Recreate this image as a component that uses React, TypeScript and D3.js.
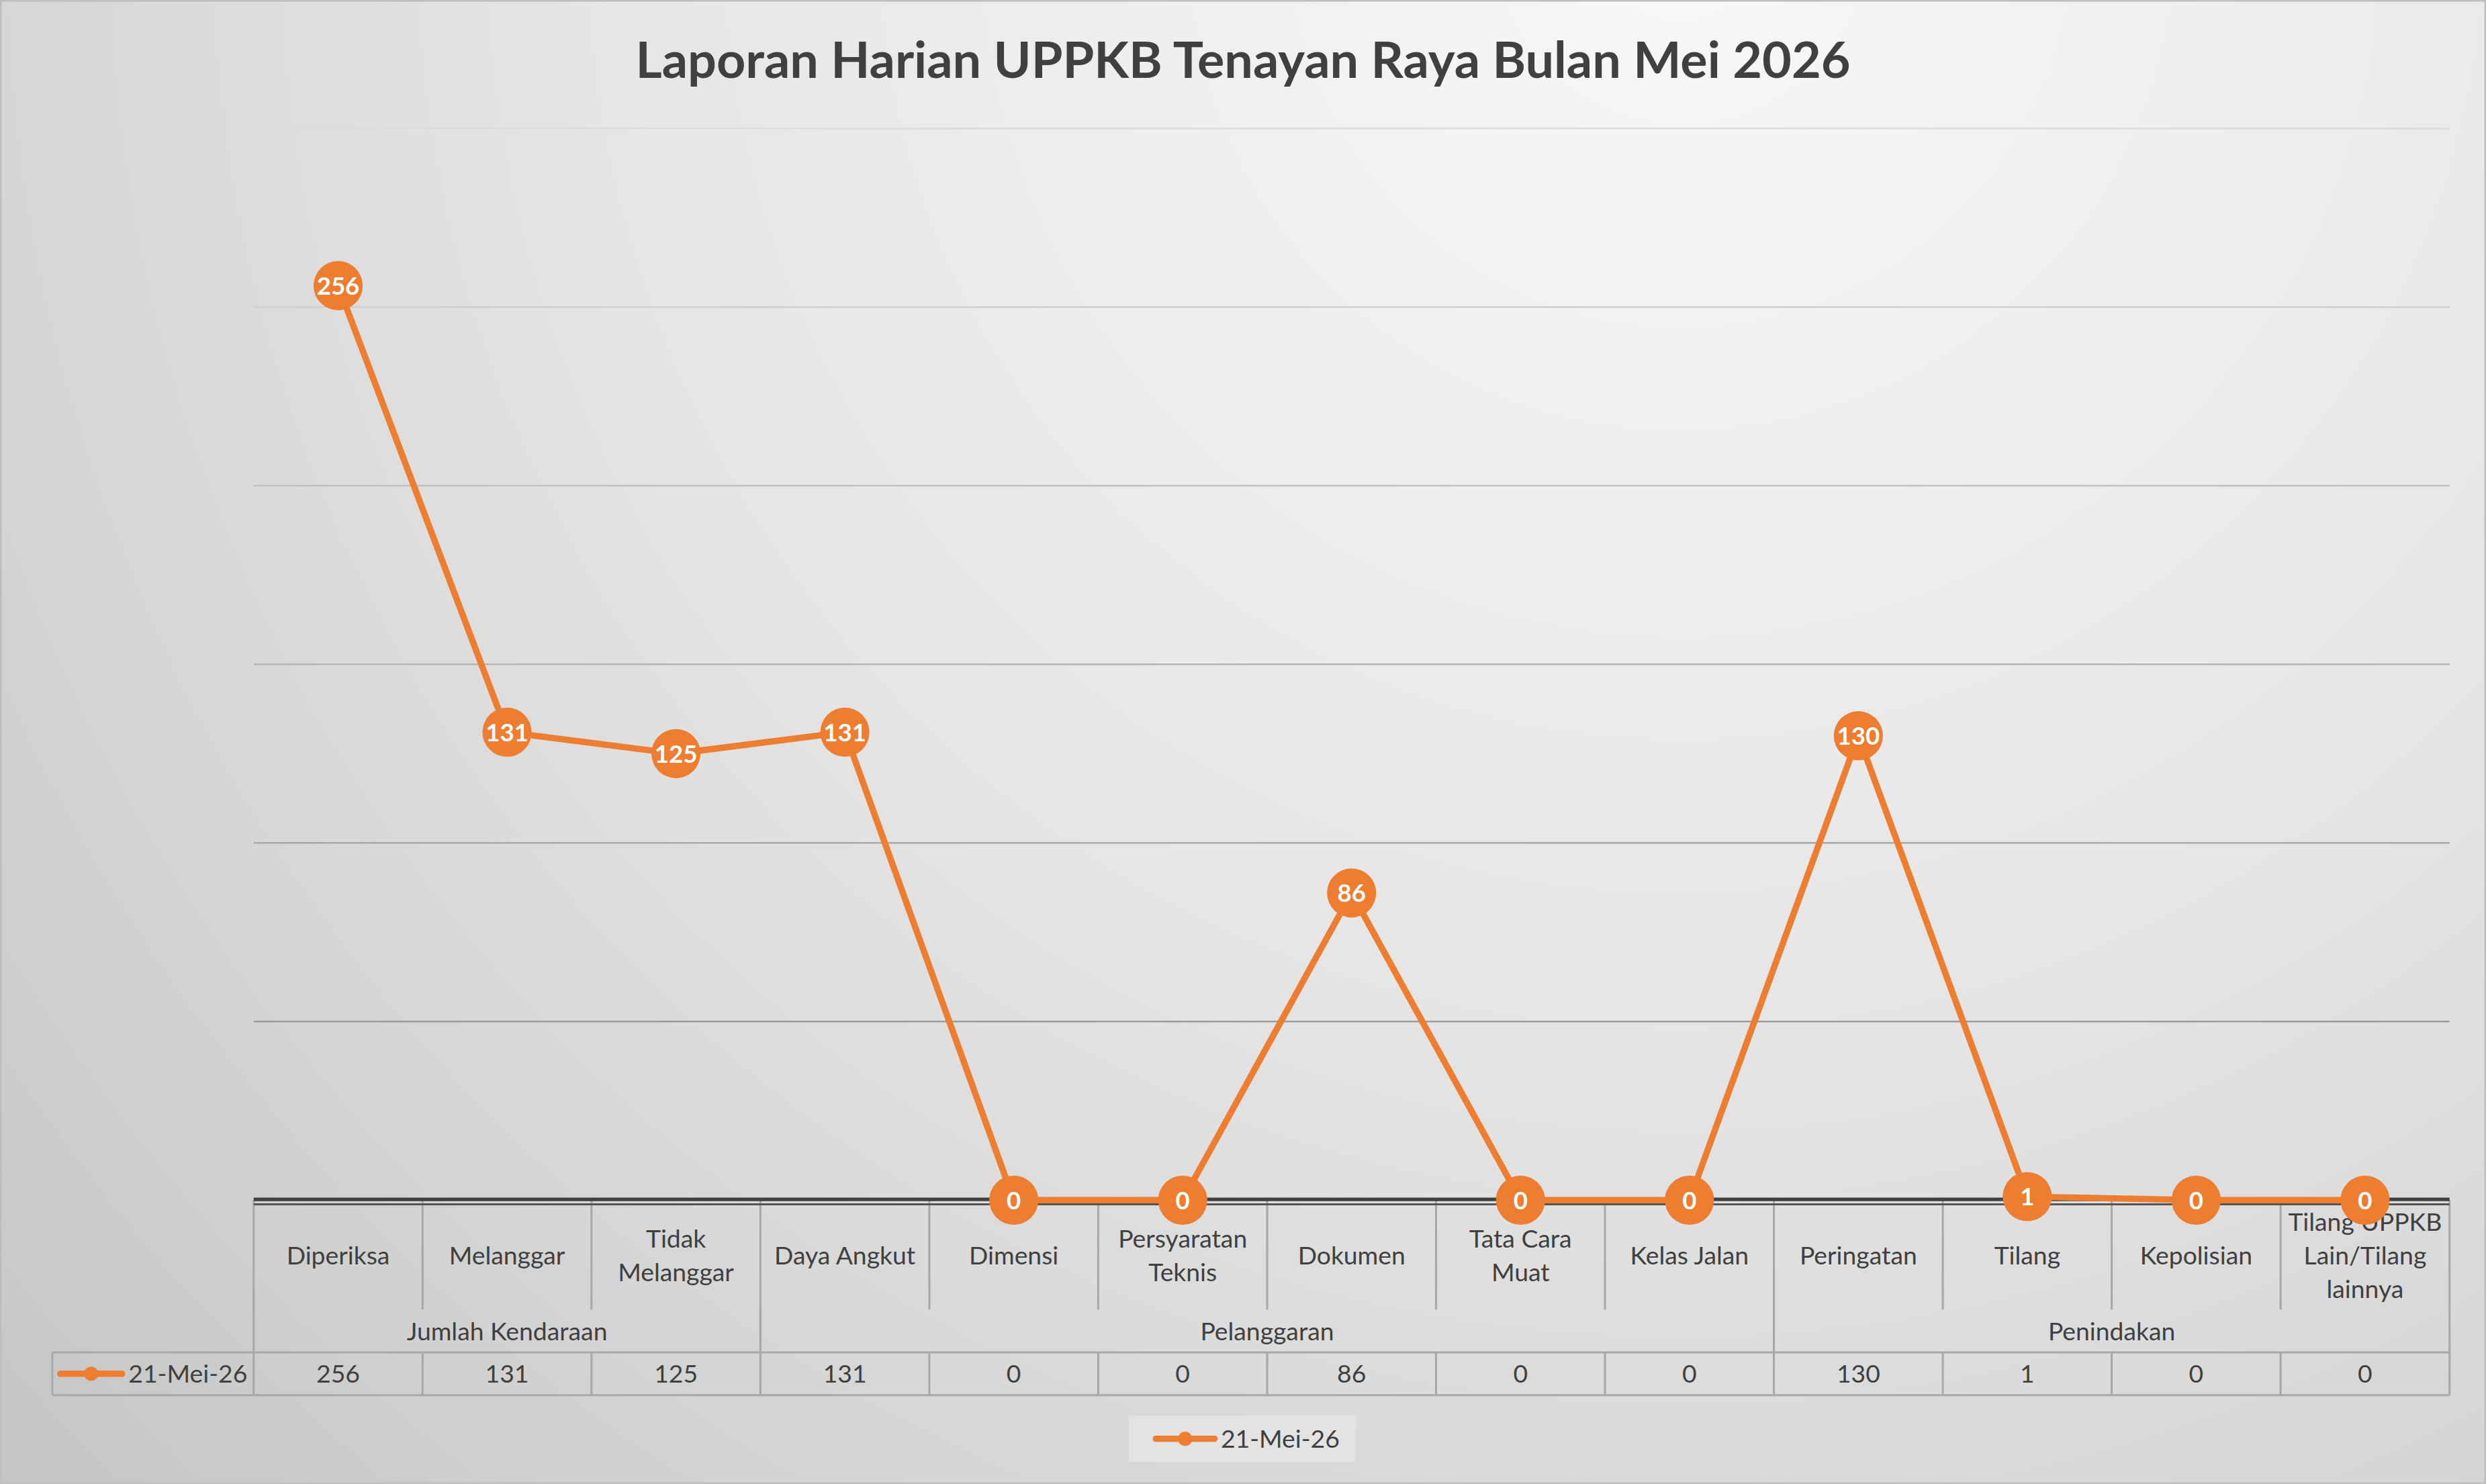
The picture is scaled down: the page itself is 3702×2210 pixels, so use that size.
import React from "react";
import * as d3 from "d3";

const title = "Laporan Harian UPPKB Tenayan Raya Bulan Mei 2026";
const seriesName = "21-Mei-26";
const categories = [
    "Diperiksa", "Melanggar", "Tidak Melanggar", "Daya Angkut", "Dimensi",
    "Persyaratan Teknis", "Dokumen", "Tata Cara Muat", "Kelas Jalan",
    "Peringatan", "Tilang", "Kepolisian", "Tilang UPPKB Lain/Tilang lainnya",
];
const values = [256, 131, 125, 131, 0, 0, 86, 0, 0, 130, 1, 0, 0];
const groupNames = ["Jumlah Kendaraan", "Pelanggaran", "Penindakan"];
const groupSizes = [3, 6, 4];
const yMax = 300;
const yTicks = [0, 50, 100, 150, 200, 250, 300];

// layout is drawn in a 1568x936 box and scaled up to the page
const W = 1568, H = 936;
const margem = {top: 81, bottom: 757, left: 160, right: 1545};
const ORANGE = "#ED7D31";
const TEXT = "#404040";
const TABLE = "#a8a8a8";
const FONT = "Lato, 'Open Sans', sans-serif";

const ctx = document.createElement("canvas").getContext("2d")!;

function quebra(texto: string, largura: number, fonte: string): string[] {
    ctx.font = fonte;
    const palavras = texto.split(" ");
    const linhas: string[] = [];
    let atual = "";
    palavras.forEach(p => {
        const teste = atual ? atual + " " + p : p;
        if (atual && ctx.measureText(teste).width > largura) {
            linhas.push(atual);
            atual = p;
        } else {
            atual = teste;
        }
    });
    if (atual) linhas.push(atual);
    return linhas;
}

export default function App() {
    const x = d3.scaleBand<string>().domain(categories).range([margem.left, margem.right]).padding(0);
    const y = d3.scaleLinear().domain([0, yMax]).range([margem.bottom, margem.top]);
    const cx = (c: string) => (x(c) ?? 0) + x.bandwidth() / 2;

    const linha = d3.line<number>()
        .x((_, i) => cx(categories[i]))
        .y(d => y(d));

    const inicios = [0, ...Array.from(d3.cumsum(groupSizes))];
    const fronteirasGrupo = new Set(inicios.slice(1, -1));

    const headTop = margem.bottom, headBottom = 826, rowTop = 853, rowBottom = 880, legLeft = 33;
    const fontTabela = `15.8px ${FONT}`;

    const gridColor = d3.scaleLinear<string>().domain([margem.top, margem.bottom]).range(["#dcdcdc", "#8f8f8f"]);

    return (
        <svg
            width={3702}
            height={2210}
            viewBox={`0 0 ${W} ${H}`}
            style={{position: "absolute", left: 0, top: 0, display: "block"}}
        >
            <defs>
                <radialGradient id="fundo" gradientUnits="userSpaceOnUse" cx={1060} cy={-40} r={1480}>
                    <stop offset="0" stopColor="#f8f8f8"/>
                    <stop offset="0.45" stopColor="#e6e6e6"/>
                    <stop offset="0.75" stopColor="#d4d4d4"/>
                    <stop offset="1" stopColor="#c3c3c3"/>
                </radialGradient>
            </defs>
            <rect x={0} y={0} width={W} height={H} fill="url(#fundo)"/>
            <rect x={0.5} y={0.5} width={W - 1} height={H - 1} fill="none" stroke="#bdbdbd" strokeWidth={1}/>

            <text x={W / 2} y={38} textAnchor="middle" dy="0.35em" fill={TEXT}
                  style={{font: `bold 32px ${FONT}`}}>{title}</text>

            {/* gridlines */}
            <g>
                {yTicks.filter(t => t > 0).map(t => (
                    <line key={t} x1={margem.left} x2={margem.right} y1={y(t)} y2={y(t)}
                          stroke={gridColor(y(t))} strokeWidth={1.1}/>
                ))}
            </g>

            {/* data table */}
            <g stroke={TABLE} strokeWidth={1.3} fill="none">
                <line x1={legLeft} x2={margem.right} y1={rowTop} y2={rowTop}/>
                <line x1={legLeft} x2={margem.right} y1={rowBottom} y2={rowBottom}/>
                <line x1={legLeft} x2={legLeft} y1={rowTop} y2={rowBottom}/>
                <line x1={margem.left} x2={margem.left} y1={headTop} y2={rowBottom}/>
                <line x1={margem.right} x2={margem.right} y1={headTop} y2={rowBottom}/>
                {categories.slice(1).map((c, k) => {
                    const i = k + 1;
                    const bx = x(c) ?? 0;
                    return fronteirasGrupo.has(i)
                        ? <line key={c} x1={bx} x2={bx} y1={headTop} y2={rowBottom}/>
                        : <g key={c}>
                            <line x1={bx} x2={bx} y1={headTop} y2={headBottom}/>
                            <line x1={bx} x2={bx} y1={rowTop} y2={rowBottom}/>
                        </g>;
                })}
            </g>
            <g fill={TEXT} style={{font: fontTabela}} textAnchor="middle">
                {categories.map(c => {
                    const linhas = quebra(c, x.bandwidth() - 8, fontTabela);
                    const y0 = (headTop + headBottom) / 2 + 0.5 - (linhas.length - 1) * 21 / 2;
                    return <text key={c}>
                        {linhas.map((l, j) => <tspan key={j} x={cx(c)} y={y0 + j * 21} dy="0.35em">{l}</tspan>)}
                    </text>;
                })}
                {groupNames.map((g, i) => {
                    const a = x(categories[inicios[i]]) ?? 0;
                    const b = (x(categories[inicios[i + 1] - 1]) ?? 0) + x.bandwidth();
                    return <text key={g} x={(a + b) / 2} y={840} dy="0.35em">{g}</text>;
                })}
                {values.map((v, i) => (
                    <text key={i} x={cx(categories[i])} y={(rowTop + rowBottom) / 2} dy="0.35em">{v}</text>
                ))}
                <text x={156} y={(rowTop + rowBottom) / 2} dy="0.35em" textAnchor="end">{seriesName}</text>
            </g>
            <g>
                <line x1={38} x2={77} y1={866.5} y2={866.5} stroke={ORANGE} strokeWidth={4} strokeLinecap="round"/>
                <circle cx={57.5} cy={866.5} r={4.5} fill={ORANGE}/>
            </g>

            {/* axis (double line) */}
            <line x1={margem.left} x2={margem.right} y1={756.5} y2={756.5} stroke="#404040" strokeWidth={2.2}/>
            <line x1={margem.left} x2={margem.right} y1={759.6} y2={759.6} stroke="#555555" strokeWidth={1.3}/>

            {/* series */}
            <path d={linha(values) ?? ""} fill="none" stroke={ORANGE} strokeWidth={4} strokeLinejoin="round"/>
            <g>
                {values.map((v, i) => (
                    <g key={i} transform={`translate(${cx(categories[i])}, ${y(v)})`}>
                        <circle r={15.5} fill={ORANGE}/>
                        <text textAnchor="middle" dy="0.36em" fill="#ffffff"
                              style={{font: `bold 15.5px ${FONT}`}}>{v}</text>
                    </g>
                ))}
            </g>

            {/* legend */}
            <g>
                <rect x={712} y={893} width={143} height={29} fill="#ffffff" fillOpacity={0.28}/>
                <line x1={729} x2={766} y1={907.5} y2={907.5} stroke={ORANGE} strokeWidth={4} strokeLinecap="round"/>
                <circle cx={747.5} cy={907.5} r={4.5} fill={ORANGE}/>
                <text x={770} y={907.5} dy="0.35em" fill={TEXT} style={{font: fontTabela}}>{seriesName}</text>
            </g>
        </svg>
    );
}
